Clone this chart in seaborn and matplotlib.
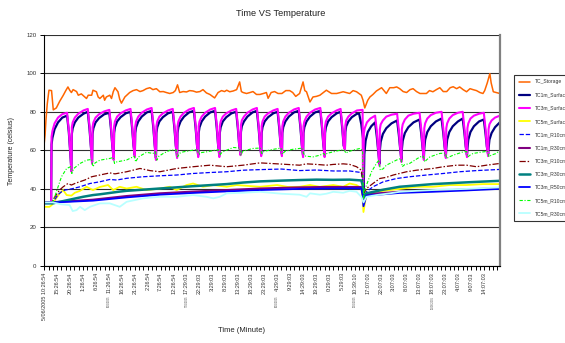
import matplotlib
matplotlib.use("Agg")
import matplotlib.pyplot as plt
import seaborn as sns
import pandas as pd

sns.set_theme(style="white")
plt.rcParams["font.family"] = ["Liberation Sans", "DejaVu Sans"]

# ---------------------------------------------------------------------------
# Logged temperatures (deg C) against sample number (one sample ~ 10 minutes)
# ---------------------------------------------------------------------------
storage_t = [0, 2, 4, 7, 11, 17, 19, 21, 28, 36,
             44, 50, 55, 59, 63, 67, 75, 79, 86, 94,
             98, 102, 110, 113, 121, 125, 129, 137, 140, 144,
             152, 156, 160, 164, 171, 175, 179, 187, 198, 206,
             214, 222, 229, 237, 245, 252, 260, 268, 276, 283,
             291, 299, 304, 309, 314, 322, 330, 337, 345, 353,
             361, 368, 376, 384, 395, 403, 411, 418, 423, 430,
             438, 446, 453, 457, 461, 469, 477, 484, 492, 500,
             508, 515, 519, 526, 534, 542, 551, 560, 569, 576,
             583, 592, 600, 604, 608, 616, 623, 631, 639, 654,
             666, 678, 693, 708, 716, 724, 735, 739, 743, 750,
             755, 762, 770, 782, 793, 801, 810, 817, 824, 832,
             840, 848, 855, 863, 871, 886, 893, 901, 909, 917,
             925, 933, 941, 948, 956, 963, 971, 979, 987, 994,
             1002, 1010, 1017, 1021, 1027, 1033, 1036, 1041, 1048, 1056]
storage_v = [63.6, 68, 75.6, 84, 91.2, 91, 86, 81, 82, 85.5,
             88.5, 91, 92.9, 91.2, 90, 91.5, 90.5, 88.6, 89.3, 87.7,
             86.9, 88.6, 88.6, 91.2, 90.4, 87.7, 86.9, 88.6, 86, 87.7,
             88.6, 86.9, 90.4, 92.5, 90.4, 86.5, 84.5, 87.7, 90, 91,
             91.5, 90.5, 91, 92, 92.5, 91.5, 92, 90.4, 90.5, 90,
             89.5, 90, 91, 94, 90, 90.5, 90.3, 91, 90.8, 90.2,
             90.5, 91.5, 89.8, 89, 87.2, 90, 91, 90.5, 91.2, 90.4,
             90.8, 91.5, 95.5, 90.5, 90, 89.5, 90, 90.5, 89, 89,
             89.5, 90, 87, 90, 90.5, 89.5, 89.5, 91, 91, 90,
             88, 89.5, 95.5, 91, 90.4, 85.1, 87.7, 88, 88.6, 91.2,
             89.5, 89.5, 90.4, 89.5, 91, 90.4, 88.6, 86, 82, 86,
             87.7, 89, 90.8, 92.5, 89.5, 92.5, 92.5, 92.9, 92, 90.5,
             90, 91.5, 92, 90.5, 89.5, 89.5, 91, 90.4, 91.5, 92.5,
             90.5, 90.5, 92.5, 93, 92, 92.9, 91.5, 90.4, 92, 91.5,
             91, 90, 89.5, 91, 95, 99.8, 95, 90.4, 90, 89.5]

surf1_t = [0, 16, 17, 19, 24, 32, 42, 53, 57, 60, 63,
           64, 66, 71, 79, 91, 101, 105, 108, 111,
           112, 114, 119, 127, 139, 151, 155, 158, 161,
           162, 164, 169, 177, 189, 200, 204, 207, 210,
           211, 213, 218, 226, 238, 249, 253, 256, 259,
           260, 262, 267, 275, 287, 298, 302, 305, 308,
           309, 311, 316, 324, 336, 347, 351, 354, 357,
           358, 360, 365, 373, 385, 396, 400, 403, 406,
           407, 409, 414, 422, 434, 445, 449, 452, 455,
           456, 458, 463, 471, 483, 493, 497, 500, 503,
           504, 506, 511, 519, 531, 541, 545, 548, 551,
           552, 554, 559, 567, 579, 590, 594, 597, 600,
           601, 603, 608, 616, 628, 640, 644, 647, 650,
           651, 653, 658, 666, 678, 687, 691, 694, 697,
           698, 700, 705, 713, 725, 730, 735, 739, 740,
           742, 745, 750, 758, 767, 771, 774, 777,
           778, 780, 785, 793, 805, 818, 822, 825, 828,
           829, 831, 836, 844, 856, 870, 874, 877, 880,
           881, 883, 888, 896, 908, 921, 925, 928, 931,
           932, 934, 939, 947, 959, 970, 974, 977, 980,
           981, 983, 988, 996, 1008, 1019, 1023, 1026, 1029,
           1030, 1032, 1037, 1045, 1056]
surf1_v = [33, 33, 63, 66.5, 71, 74.5, 77, 78, 69.5, 59.5, 50,
           68.5, 71.5, 74.5, 77, 79, 80, 71, 62.5, 54,
           68.5, 71.5, 74.5, 76.7, 78.7, 79.5, 70.5, 62, 56,
           69, 72, 75, 77.2, 79.2, 80, 71, 62.5, 57.5,
           69, 72, 75, 77.5, 79.7, 80.5, 71.5, 63, 56,
           69, 72, 75, 77.2, 79.2, 80, 71, 62.5, 57,
           69, 72, 75, 77.5, 79.7, 80.5, 71.5, 63, 57.5,
           69, 72, 75, 77.5, 79.7, 80.5, 71.5, 63, 57.5,
           69, 72, 75, 77.2, 79.2, 80, 71, 62.5, 58.5,
           69.5, 72.5, 75, 77.5, 79.7, 80.5, 71.5, 63, 58,
           69, 72, 75, 77.2, 79.2, 80, 71, 62.5, 58,
           69, 72, 75, 77.5, 79.7, 80.5, 71.5, 63, 57.5,
           69, 72, 75, 77.5, 79.7, 80.5, 71.5, 63, 57.5,
           69, 72, 75, 77.2, 79.2, 80, 71, 62.5, 61,
           69.5, 72.5, 75, 77.2, 79, 79, 73.5, 66, 32,
           58, 65, 69.5, 72.5, 74.5, 67, 60, 53,
           60, 64.5, 68.5, 71.5, 74, 75.5, 68, 61, 55,
           60.5, 65, 69, 72, 74.5, 76, 68.5, 61.5, 56,
           61, 65.5, 69.5, 72.5, 75, 76.5, 69, 62, 57,
           61, 65.5, 69.5, 72.5, 75, 76.5, 69, 62, 57.5,
           61, 65.5, 69.5, 72.5, 75, 76, 68.5, 62, 58,
           61, 65.5, 69, 72, 74.5]

surf3_t = [0, 16, 17, 19, 24, 32, 42, 53, 57, 60, 63,
           64, 66, 71, 79, 91, 101, 105, 108, 111,
           112, 114, 119, 127, 139, 151, 155, 158, 161,
           162, 164, 169, 177, 189, 200, 204, 207, 210,
           211, 213, 218, 226, 238, 249, 253, 256, 259,
           260, 262, 267, 275, 287, 298, 302, 305, 308,
           309, 311, 316, 324, 336, 347, 351, 354, 357,
           358, 360, 365, 373, 385, 396, 400, 403, 406,
           407, 409, 414, 422, 434, 445, 449, 452, 455,
           456, 458, 463, 471, 483, 493, 497, 500, 503,
           504, 506, 511, 519, 531, 541, 545, 548, 551,
           552, 554, 559, 567, 579, 590, 594, 597, 600,
           601, 603, 608, 616, 628, 640, 644, 647, 650,
           651, 653, 658, 666, 678, 687, 691, 694, 697,
           698, 700, 705, 713, 725, 737, 738, 739,
           741, 743, 748, 756, 767, 771, 774, 777,
           778, 780, 785, 793, 805, 818, 822, 825, 828,
           829, 831, 836, 844, 856, 870, 874, 877, 880,
           881, 883, 888, 896, 908, 921, 925, 928, 931,
           932, 934, 939, 947, 959, 970, 974, 977, 980,
           981, 983, 988, 996, 1008, 1019, 1023, 1026, 1029,
           1030, 1032, 1037, 1045, 1056]
surf3_v = [33, 33, 67, 70, 74, 77, 78.8, 79.5, 70.5, 60.5, 49,
           72, 74.5, 77, 79, 80.7, 81.5, 72.5, 62.5, 53,
           72, 74.5, 77, 78.7, 80.2, 81, 72, 62, 55,
           72.5, 75, 77.5, 79.2, 80.7, 81.5, 72.5, 62.5, 56.5,
           72.5, 75, 77.5, 79.5, 81.2, 82, 73, 63, 55,
           72.5, 75, 77.5, 79.2, 80.7, 81.5, 72.5, 62.5, 56,
           72.5, 75, 77.5, 79.5, 81.2, 82, 73, 63, 56.5,
           72.5, 75, 77.5, 79.5, 81.2, 82, 73, 63, 56.5,
           72.5, 75, 77.5, 79.2, 80.7, 81.5, 72.5, 62.5, 57.5,
           73, 75.5, 77.5, 79.5, 81.2, 82, 73, 63, 57,
           72.5, 75, 77.5, 79.2, 80.7, 81.5, 72.5, 62.5, 57,
           72.5, 75, 77.5, 79.5, 81.2, 82, 73, 63, 56.5,
           72.5, 75, 77.5, 79.5, 81.2, 82, 73, 63, 56.5,
           72.5, 75, 77.5, 79.2, 80.7, 81.5, 72.5, 62.5, 60,
           73, 75.5, 77.5, 79.2, 80.7, 81, 81, 35,
           69, 71.5, 74.5, 76.5, 78, 70, 61, 52,
           71, 73.5, 75.5, 77.5, 78.5, 79, 70.5, 61.5, 54,
           71, 73.5, 76, 78, 79, 79.5, 71, 62, 55,
           71.5, 74, 76.5, 78.3, 79.5, 80, 71.5, 62.5, 56,
           71.5, 74, 76.5, 78.3, 79.5, 80, 71.5, 62.5, 56.5,
           71.5, 74, 76.5, 78, 79, 79.5, 71, 62, 57,
           71, 73.5, 75.5, 77, 78]

surf5_t = [0, 12, 17, 25, 36, 44, 52, 63, 71, 83,
           98, 113, 129, 148, 160, 175, 191, 214, 237, 268,
           291, 307, 330, 345, 368, 392, 423, 446, 469, 500,
           540, 565, 592, 616, 639, 670, 693, 708, 724, 735,
           738, 740, 747, 770, 801, 824, 863, 901, 940, 979,
           1017, 1056]
surf5_v = [30.7, 30.7, 31.5, 34.2, 37.7, 39.4, 36.8, 36.5, 38, 39,
           41.1, 39.4, 41, 42, 39.4, 41.1, 40.2, 41.1, 39.4, 40.2,
           41.1, 39.4, 42, 42.8, 41.1, 42, 41.1, 42, 41.6, 41.1,
           42, 41, 41.1, 42, 41.1, 42, 41.1, 42.8, 42, 40.2,
           35, 28, 37.7, 38.5, 39.4, 40, 41.1, 41.1, 42, 42,
           42.5, 42.5]

r1_10_t = [0, 21, 26, 32, 40, 48, 63, 83, 106, 129,
           152, 168, 191, 229, 268, 307, 345, 384, 423, 461,
           500, 550, 592, 631, 670, 708, 735, 738, 740, 747,
           762, 786, 817, 847, 886, 925, 963, 1002, 1056]
r1_10_v = [33, 33, 35, 37, 38.5, 39.4, 40, 41.1, 42.8, 43.7,
           44.9, 44.6, 45.5, 46.3, 46.8, 47.2, 48, 48.5, 48.9, 49.7,
           50, 50.3, 49.5, 49.8, 49.3, 49.3, 48.5, 45, 33, 38.5,
           41.1, 43.7, 45.4, 46.3, 47.2, 48, 48.9, 49.5, 50.1]

r1_30_t = [0, 36, 113, 191, 268, 345, 423, 500, 592, 650,
           708, 735, 738, 740, 747, 786, 824, 901, 979, 1056]
r1_30_v = [33, 33.3, 34.4, 36.3, 37.7, 38.6, 39.4, 40.2, 40.8, 41,
           41, 41, 38, 33, 37.3, 37.9, 38.5, 39, 39.7, 40.4]

r3_10_t = [0, 17, 25, 36, 44, 55, 63, 73, 94, 110,
           129, 152, 164, 191, 222, 245, 268, 307, 345, 384,
           423, 461, 500, 540, 592, 608, 631, 654, 670, 693,
           708, 724, 735, 738, 740, 747, 762, 778, 793, 809,
           840, 863, 901, 925, 956, 979, 1002, 1025, 1056]
r3_10_v = [33, 33, 36, 39.5, 41.1, 42.8, 42, 43, 44.6, 46.3,
           47.2, 48.3, 47.8, 48.9, 50.6, 49.5, 48.9, 50.6, 51.5, 52.3,
           51.5, 52.3, 53.5, 53, 52.3, 53, 52.7, 52.3, 52.7, 53,
           52.7, 51.5, 49.7, 45, 37, 40.2, 42.8, 45.4, 46, 47.2,
           48.9, 49.7, 50.6, 51.5, 52.3, 52.3, 51.5, 52.3, 53.2]

r3_30_t = [0, 20, 36, 90, 113, 129, 175, 191, 268, 345,
           423, 461, 500, 550, 592, 631, 670, 708, 735, 738,
           740, 747, 786, 824, 901, 979, 1056]
r3_30_v = [32.5, 32.5, 33.3, 35.9, 36.8, 37.2, 38.6, 39, 40.2, 41.4,
           42.5, 43.3, 43.9, 44.3, 44.6, 44.8, 44.7, 44.8, 44.4, 42,
           35.5, 37.7, 39.6, 41.1, 42.5, 43.4, 44.2]

r3_50_t = [0, 36, 113, 191, 268, 345, 423, 500, 592, 650,
           708, 735, 738, 740, 747, 786, 824, 901, 979, 1056]
r3_50_v = [33, 33.1, 33.9, 35.6, 37, 37.9, 38.7, 39.4, 40, 40.2,
           40.3, 40.3, 37, 31, 36.6, 37.2, 37.9, 38.5, 39.2, 40]

r5_10_t = [0, 20, 26, 32, 40, 52, 61, 64, 68, 83,
           98, 110, 113, 118, 129, 152, 160, 163, 168, 191,
           206, 209, 212, 218, 237, 252, 258, 261, 266, 276,
           291, 306, 309, 314, 322, 345, 355, 358, 363, 376,
           395, 404, 407, 412, 423, 438, 453, 456, 460, 469,
           484, 501, 504, 510, 530, 549, 552, 558, 575, 592,
           598, 601, 606, 623, 639, 648, 651, 656, 670, 686,
           696, 699, 704, 716, 732, 738, 740, 743, 747, 759,
           770, 776, 779, 786, 793, 817, 827, 830, 835, 847,
           871, 879, 882, 886, 894, 917, 930, 933, 938, 948,
           971, 979, 982, 987, 994, 1017, 1028, 1031, 1036, 1048,
           1056]
r5_10_v = [33, 33, 37, 41, 46.3, 50.6, 51.5, 48, 50.5, 53.2,
           54.9, 55.3, 51.5, 53.5, 54.9, 55.8, 56.3, 53.2, 54, 55,
           56.6, 57, 54, 56.5, 59, 58.4, 59.3, 54.9, 57, 58.4,
           60, 60.3, 56.6, 58.5, 59.2, 60.1, 60.5, 58, 58.8, 59.2,
           60, 60.3, 57.5, 59, 60.1, 61.5, 61.2, 57.5, 59.5, 60.1,
           61, 61.2, 58.4, 59.5, 60.5, 61.2, 58, 59.5, 60.5, 61,
           61.2, 58.4, 57, 56.6, 57.5, 58.4, 57.5, 58.5, 59.2, 60.1,
           60.2, 58.5, 59.2, 60.1, 61, 60.1, 35, 39.4, 42, 49,
           53.2, 55, 49.7, 50.5, 52.3, 55, 55.8, 51.5, 52.5, 53.2,
           56.6, 57, 54, 55, 56.6, 58.4, 58.6, 55.8, 56.5, 57.5,
           59.2, 59.4, 56.6, 57.5, 58.4, 59.2, 59.5, 56.6, 57.5, 58.4,
           60.1]

r5_30_t = [0, 20, 40, 59, 66, 75, 83, 94, 106, 129,
           152, 175, 191, 229, 268, 307, 345, 376, 392, 407,
           423, 461, 500, 550, 592, 608, 616, 639, 654, 670,
           693, 708, 724, 735, 740, 747, 770, 801, 824, 863,
           901, 940, 979, 1017, 1056]
r5_30_v = [33, 33, 32, 31.6, 28.5, 29, 30.7, 29, 30.7, 32.5,
           32.5, 30.7, 33.3, 35.1, 35.9, 35.9, 36.8, 35.9, 35.1, 35.9,
           37.7, 38, 38.5, 37.5, 37, 35.9, 37.7, 37, 37.5, 38.5,
           38, 39, 38.5, 35.9, 33, 35.9, 36.8, 37.7, 38.5, 39,
           39.4, 39.7, 40, 40.4, 40.8]

# Category labels along the time axis (one every 30 samples)
time_labels = ["5/06/2005 10:26:54", "15:26:54", "20:26:54", "1:26:54", "6:26:54",
               "11:26:54", "16:26:54", "21:26:54", "2:26:54", "7:26:54",
               "12:26:54", "17:29:03", "22:29:03", "3:29:03", "8:29:03",
               "13:29:03", "18:29:03", "23:29:03", "4:29:03", "9:29:03",
               "14:29:03", "19:29:03", "0:29:03", "5:29:03", "10:39:10",
               "17:07:03", "22:07:03", "3:07:03", "8:07:03", "13:07:03",
               "18:07:03", "23:07:03", "4:07:03", "9:07:03", "14:07:03"]
date_label_idx = [5, 11, 18, 24, 30]
date_labels = ["6/06/2005", "7/06/2005", "8/06/2005", "9/06/2005", "10/06/2005"]

# name, times, values, colour, line width (pt), dash pattern (None = solid)
series = [
    ("TC_Storage",   storage_t, storage_v, "#FF6600", 1.1,  None),
    ("TC1m_Surface", surf1_t,   surf1_v,   "#000080", 1.6,  None),
    ("TC3m_Surface", surf3_t,   surf3_v,   "#FF00FF", 1.5,  None),
    ("TC5m_Surface", surf5_t,   surf5_v,   "#FFFF00", 1.3,  None),
    ("TC1m_R10cm",   r1_10_t,   r1_10_v,   "#0000FF", 0.9,  (3.5, 1.5)),
    ("TC1m_R30cm",   r1_30_t,   r1_30_v,   "#800080", 1.5,  None),
    ("TC3m_R10cm",   r3_10_t,   r3_10_v,   "#800000", 0.9,  (5, 1.5, 1.2, 1.5)),
    ("TC3m_R30cm",   r3_30_t,   r3_30_v,   "#008080", 1.8,  None),
    ("TC3m_R50cm",   r3_50_t,   r3_50_v,   "#0000FF", 1.3,  None),
    ("TC5m_R10cm",   r5_10_t,   r5_10_v,   "#00FF00", 0.8,  (3, 1.5, 1, 1.5)),
    ("TC5m_R30cm",   r5_30_t,   r5_30_v,   "#B8FFFF", 1.3,  None),
]

W, H = 565, 343
fig = plt.figure(figsize=(W / 100, H / 100), dpi=100)
ax = fig.add_axes([44 / W, 1 - 266 / H, 456 / W, (266 - 34.7) / H])

for name, t, v, color, lw, dash in series:
    df = pd.DataFrame({"sample": t, "temp": v})
    sns.lineplot(data=df, x="sample", y="temp", ax=ax, color=color,
                 linewidth=lw, label=name, estimator=None, sort=False)
    line = ax.lines[-1]
    line.set_solid_joinstyle("round")
    if dash is not None:
        line.set_dashes(dash)

ax.set_xlim(-0.5, 1056.5)
ax.set_ylim(0, 120)

# y axis
ax.set_yticks(range(0, 121, 20))
ax.yaxis.grid(True, color="#303030", linewidth=0.8)
ax.xaxis.grid(False)
ax.set_axisbelow(True)
ax.tick_params(axis="y", direction="out", length=3.2, width=0.7, color="black",
               labelsize=4.4, labelcolor="#333333", pad=2.2, left=True)

# x axis: labelled categories every 30 samples, marks every 10
ax.set_xticks(range(0, 30 * len(time_labels), 30))
ax.set_xticklabels(time_labels, rotation=90)
ax.set_xticks(range(0, 1057, 10), minor=True)
ax.tick_params(axis="x", which="both", direction="out", length=3, width=0.7,
               color="black", bottom=True)
ax.tick_params(axis="x", which="major", labelsize=4.0, labelcolor="#333333", pad=1.5)

for idx, txt in zip(date_label_idx, date_labels):
    ax.text(idx * 30, -0.128, txt, rotation=90, fontsize=1.8, color="#444444",
            ha="center", va="top", transform=ax.get_xaxis_transform())

for side in ("left", "bottom"):
    ax.spines[side].set_color("black")
    ax.spines[side].set_linewidth(0.8)
ax.spines["top"].set_visible(False)
ax.spines["right"].set_color("#808080")
ax.spines["right"].set_linewidth(1.6)

ax.set_xlabel("Time (Minute)", fontsize=5.5, color="#222222", va="center")
ax.xaxis.set_label_coords((241 - 44) / 456, (266 - 330) / 231.3)
ax.set_ylabel("Temperature (celsius)", fontsize=5.0, color="#222222", va="center")
ax.yaxis.set_label_coords((12 - 44) / 456, (266 - 151) / 231.3)

fig.suptitle("Time VS Temperature", x=281 / W, y=1 - 14 / H, fontsize=6.7,
             color="#222222", va="center")

leg = ax.legend(loc="upper left", bbox_to_anchor=(514 / W, 1 - 75 / H),
                bbox_transform=fig.transFigure, fontsize=3.6, frameon=True,
                fancybox=False, edgecolor="black", borderaxespad=0,
                borderpad=0.9, labelspacing=1.63, handlelength=2.3,
                handletextpad=1.0)
leg.get_frame().set_linewidth(0.8)
for txt in leg.get_texts():
    txt.set_color("#333333")

fig.savefig("out.png", dpi=100, facecolor="white")
